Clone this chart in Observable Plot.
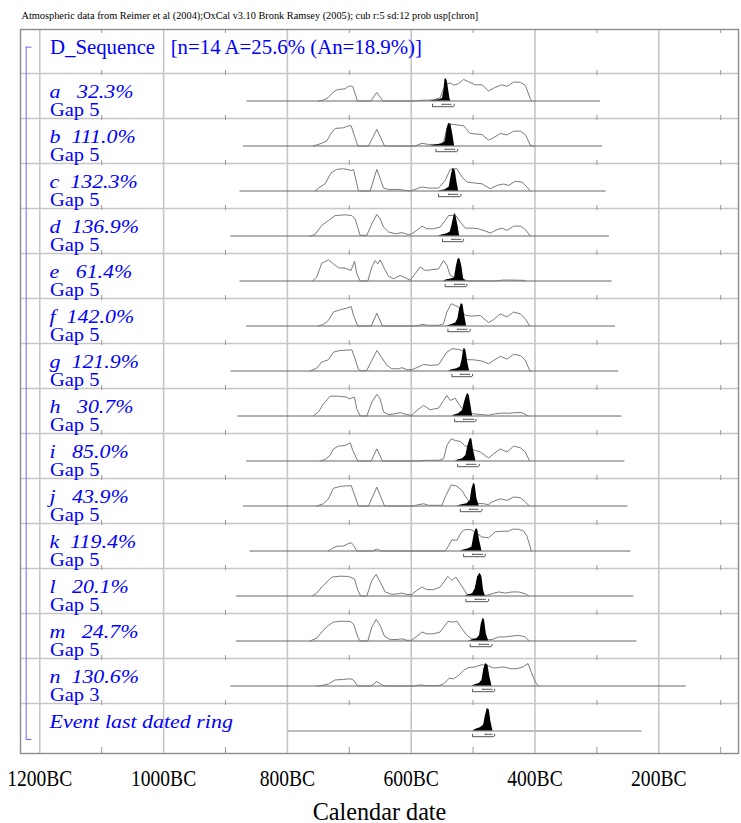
<!DOCTYPE html>
<html>
<head>
<meta charset="utf-8">
<script src="https://cdn.jsdelivr.net/npm/d3@7"></script>
<script src="https://cdn.jsdelivr.net/npm/@observablehq/plot@0.6"></script>
<style>
  html, body { margin: 0; padding: 0; background: #fff; }
  svg { display: block; }
</style>
</head>
<body>
<div id="chart"></div>
<script>
// ---------------- DATA ----------------
const titleText = "Atmospheric data from Reimer et al (2004);OxCal v3.10 Bronk Ramsey (2005); cub r:5 sd:12 prob usp[chron]";
const seqName = "D_Sequence";
const seqN = 14, seqA = 25.6, seqAn = 18.9;
const xAxisLabel = "Calendar date";

const rowNames  = ["a","b","c","d","e","f","g","h","i","j","k","l","m","n"];
const agreement = [32.3,111.0,132.3,136.9,61.4,142.0,121.9,30.7,85.0,43.9,119.4,20.1,24.7,130.6];
const gaps      = [5,5,5,5,5,5,5,5,5,5,5,5,5,3];
const eventLabel = "Event last dated ring";

const majorYears = [1200,1000,800,600,400,200];           // years BC
const tickLabels = ["1200BC","1000BC","800BC","600BC","400BC","200BC"];
const minorYears = [1100,900,700,500,300,100];

// calculation range of each row (years BC), a..n, event
const rangeStart = [865.2,871.2,876.5,891.1,876.5,865.7,891.1,880.3,865.7,871.2,860.4,882.4,882.4,891.1,798.4];
const rangeEnd   = [294.3,290.6,285.1,279.8,275.4,270.1,264.7,259.6,254.7,249.9,245.0,240.2,235.3,155.7,226.8];

// 95.4% and 68.2% ranges (years BC)
const range95From = [565.5,560.1,555.8,549.3,545.0,540.7,534.2,529.9,525.0,520.7,515.3,511.6,504.6,500.8,500.8];
const range95To   = [530.4,525.0,519.7,515.3,510.0,504.6,500.8,495.4,490.0,485.7,480.3,474.9,469.5,465.2,465.2];
const range68From = [549.8,545.0,539.6,534.2,529.9,525.1,520.2,515.3,510.0,505.6,500.8,496.5,490.0,484.6,480.3];
const range68To   = [535.8,529.9,525.0,519.7,513.7,510.0,505.6,499.2,495.4,492.2,484.6,480.3,474.9,469.5,469.5];

// likelihoods (outline): [year BC, relative height]
const likeA = [[749.8,0],[741.8,.04],[733.7,.16],[728.3,.33],[721.3,.48],[714.8,.52],[706.7,.54],[703.0,.62],[697.5,.67],[694.3,.64],[686.8,0],[665.2,0],[655.5,.38],[645.8,0],[593.5,0],[582.7,.03],[563.8,.05],[553.1,.15],[547.7,.55],[542.3,.75],[536.9,.80],[530.4,.70],[523.4,.78],[515.3,.96],[507.2,.85],[496.5,.72],[485.7,.72],[474.9,.45],[464.1,.61],[453.3,.72],[445.2,.65],[434.5,.84],[423.7,.83],[415.6,.70],[407.5,.10],[404.8,0]];
const likeB = [[758.0,0],[744.5,.12],[736.4,.22],[729.4,.56],[722.9,.78],[709.4,.81],[700.3,.90],[697.0,.90],[686.2,0],[669.0,0],[655.5,.74],[643.1,0],[593.5,0],[582.7,.12],[572.0,.07],[555.8,.07],[547.7,.16],[542.3,.78],[538.5,1.0],[534.2,.96],[523.4,.93],[515.3,.90],[504.6,.56],[493.8,.53],[485.7,.51],[474.9,.26],[466.8,.37],[456.0,.56],[445.3,.49],[434.5,.66],[423.7,.66],[415.6,.51],[407.5,.04],[402.1,0]];
const likeC = [[755.2,0],[747.2,.18],[739.1,.32],[729.4,.81],[720.2,.96],[709.4,.99],[695.9,.91],[693.2,.96],[685.2,0],[666.3,0],[655.5,.96],[644.7,.13],[636.6,.07],[620.5,.07],[601.6,0],[590.8,.10],[582.7,.18],[572.0,.13],[555.8,.13],[545.0,.47],[536.9,.96],[531.5,.99],[526.1,.99],[518.0,.62],[509.9,.40],[496.5,.35],[485.7,.32],[472.2,.10],[461.4,.25],[450.6,.31],[442.6,.25],[431.8,.43],[421.0,.40],[412.9,.18],[407.5,0]];
const likeD = [[763.3,0],[755.2,.07],[744.5,.47],[733.7,.69],[722.9,.91],[706.7,.94],[695.9,.91],[690.6,.76],[682.5,.03],[671.7,.03],[663.6,.54],[655.5,.96],[650.1,.76],[644.7,.40],[636.6,.18],[625.9,.10],[615.1,.15],[604.3,.06],[598.9,.10],[590.8,.25],[582.7,.44],[574.6,.32],[563.9,.32],[553.1,.40],[545.0,.69],[539.6,.91],[534.2,.91],[528.8,.94],[520.7,.62],[512.6,.35],[501.9,.35],[491.1,.32],[480.3,.22],[472.2,.13],[461.4,.28],[453.3,.35],[445.3,.25],[434.5,.44],[423.7,.44],[415.6,.29],[407.5,0]];
const likeE = [[759.6,0],[752.5,.18],[744.5,.79],[733.7,.94],[725.6,.76],[717.5,.59],[706.7,.57],[697.0,.47],[691.6,.88],[687.9,.32],[682.5,0],[670.1,0],[663.6,.62],[658.2,.91],[653.9,.76],[650.1,.94],[643.1,.54],[636.6,.21],[628.5,.10],[617.8,.25],[609.7,.15],[601.6,.03],[594.6,.29],[585.4,.62],[577.3,.47],[566.6,.50],[555.8,.54],[547.7,.91],[542.3,.69],[536.9,.25],[531.5,.18],[520.0,.10],[507.2,0],[461.4,0],[453.3,.04],[437.2,.04],[418.3,.03],[415.6,0]];
const likeF = [[749.9,0],[741.8,.07],[733.7,.25],[725.6,.62],[714.8,.72],[704.0,.79],[697.0,.87],[693.2,.47],[686.2,0],[664.7,0],[655.5,.57],[646.4,0],[590.8,0],[582.7,.07],[572.0,.03],[555.8,.03],[547.7,.10],[542.3,.62],[535.3,.99],[528.8,.91],[523.4,.84],[512.6,.47],[501.9,.44],[488.4,.47],[474.9,.15],[466.8,.29],[456.0,.54],[445.3,.40],[434.5,.62],[423.7,.54],[415.6,.32],[408.6,0]];
const likeG = [[763.3,0],[752.5,.13],[744.5,.40],[733.7,.50],[725.6,.84],[714.8,.91],[695.9,.94],[691.6,.62],[685.2,.06],[679.8,0],[671.7,.03],[663.6,.47],[655.5,.91],[647.4,.59],[639.3,.25],[631.3,.10],[620.5,.10],[615.1,.15],[607.0,.06],[598.9,.06],[588.1,.18],[580.0,.29],[569.3,.25],[555.8,.28],[542.3,.84],[534.2,.99],[523.4,.96],[517.0,.91],[512.6,.50],[499.2,.50],[485.7,.44],[474.9,.32],[466.8,.47],[456.0,.65],[445.3,.53],[434.5,.74],[423.7,.69],[415.6,.47],[408.6,.03],[406.1,0]];
const likeH = [[758.0,0],[749.9,.18],[741.8,.54],[731.0,.88],[717.5,.88],[704.0,.84],[700.3,.76],[691.6,.84],[687.9,.32],[682.5,0],[671.7,0],[663.6,.62],[655.5,.96],[650.1,.76],[644.7,.18],[636.6,.06],[625.9,.10],[617.8,.15],[607.0,.06],[598.9,.03],[590.8,.25],[580.0,.47],[569.3,.28],[555.8,.35],[547.7,.69],[542.3,.91],[536.9,.69],[528.8,.79],[523.4,.54],[515.3,.25],[505.0,.12],[496.5,.09],[485.7,.06],[474.9,.03],[464.1,.10],[453.3,.13],[442.6,.12],[431.8,.15],[421.0,.15],[412.9,.03],[410.2,0]];
const likeI = [[747.2,0],[739.1,.07],[731.0,.25],[725.6,.54],[717.5,.66],[706.7,.69],[698.6,.81],[694.3,.47],[686.2,0],[664.7,0],[655.5,.54],[646.4,0],[589.2,0],[577.3,.03],[555.8,.03],[547.7,.10],[542.3,.69],[535.3,.99],[528.8,.91],[520.7,.87],[513.7,.69],[505.0,.55],[496.5,.47],[488.4,.40],[474.9,.13],[466.8,.32],[456.0,.54],[445.3,.40],[434.5,.66],[423.7,.59],[415.6,.40],[408.6,0]];
const likeJ = [[752.5,0],[741.8,.10],[733.7,.32],[725.6,.79],[714.8,.87],[697.0,.91],[693.2,.62],[685.2,0],[669.0,0],[655.5,.84],[643.1,0],[596.2,0],[588.1,.06],[580.0,.10],[572.0,.03],[550.4,.03],[544.0,.47],[535.3,.94],[526.1,.88],[518.0,.69],[509.9,.32],[504.6,.18],[495.0,.12],[483.0,.10],[474.9,.06],[469.5,.18],[456.0,.32],[445.3,.25],[434.5,.40],[423.7,.37],[415.6,.18],[409.1,0]];
const likeK = [[733.7,0],[728.3,.10],[720.2,.21],[709.4,.22],[702.4,.32],[697.0,.37],[693.2,.25],[687.9,0],[662.5,0],[655.5,.09],[648.5,0],[545.0,0],[540.7,.18],[534.2,.50],[526.1,.47],[520.7,.76],[515.3,.94],[504.6,.96],[496.5,.84],[485.7,.62],[474.9,.59],[464.1,.85],[453.3,.88],[442.6,.88],[436.1,.97],[426.4,.97],[418.3,.88],[412.9,.66],[405.9,0]];
const likeL = [[759.6,0],[752.5,.13],[744.5,.40],[733.7,.69],[728.3,.84],[714.8,.88],[701.3,.87],[691.6,.76],[686.2,.25],[681.4,0],[671.7,0],[663.6,.69],[656.6,.96],[650.1,.62],[642.0,.18],[631.3,.07],[620.5,.10],[615.1,.13],[607.0,.07],[598.9,.07],[590.8,.25],[582.7,.40],[574.6,.28],[563.9,.28],[553.1,.40],[540.7,.87],[534.2,.69],[527.8,.84],[520.7,.54],[513.7,.25],[509.9,.07],[495.0,.04],[477.6,.03],[469.5,.10],[458.7,.18],[447.9,.13],[437.2,.18],[426.4,.18],[415.6,.10],[410.2,0]];
const likeM = [[763.3,0],[752.5,.13],[744.5,.40],[733.7,.69],[725.6,.84],[714.8,.88],[698.6,.87],[693.2,.76],[686.2,.18],[682.5,0],[670.1,0],[663.6,.62],[656.6,.96],[650.1,.69],[643.1,.21],[633.9,.06],[620.5,.07],[615.1,.10],[607.0,.03],[600.0,.03],[590.8,.21],[582.7,.40],[574.6,.32],[563.9,.32],[553.1,.40],[540.7,.87],[531.5,.84],[526.1,.88],[518.0,.54],[509.9,.25],[501.9,.10],[485.0,.05],[469.5,.06],[458.7,.18],[447.9,.18],[437.2,.22],[426.4,.25],[415.6,.18],[409.1,0]];
const likeN = [[752.5,0],[744.5,.02],[733.7,.09],[722.9,.27],[709.4,.29],[698.6,.32],[694.3,.29],[686.2,0],[664.7,0],[655.5,.20],[647.4,.05],[641.9,0],[593.5,0],[585.4,.05],[577.3,.02],[555.8,.02],[547.7,.09],[538.5,.35],[531.5,.32],[523.4,.47],[515.3,.70],[507.2,.82],[496.5,.85],[485.7,.95],[474.9,.89],[466.8,.80],[458.7,.82],[450.6,.85],[439.8,.77],[429.1,.77],[419.4,.85],[411.3,1.0],[406.1,.62],[399.4,.17],[394.1,0]];

// posteriors (filled): [year BC, relative height]
const postA = [[569.2,0],[561.1,.03],[553.1,.07],[549.3,.12],[547.2,.45],[545.5,.95],[544.0,1.0],[541.8,.9],[539.6,.5],[537.4,.1],[535.8,0]];
const postB = [[569.3,0],[561.2,.04],[550.4,.09],[545.0,.19],[541.8,.78],[539.6,1.0],[535.8,.96],[532.6,.49],[529.9,0]];
const postC = [[555.8,0],[545.0,.06],[538.5,.18],[535.3,.69],[532.6,1.0],[528.8,.91],[526.1,.40],[523.4,0]];
const postD = [[555.8,0],[550.4,.04],[542.3,.10],[536.9,.18],[534.2,.47],[530.4,.94],[529.6,1.0],[527.8,.91],[524.5,.47],[521.8,0]];
const postE = [[547.7,0],[542.3,.06],[534.2,.10],[530.0,.15],[527.2,.62],[524.5,.96],[522.6,1.0],[520.7,.94],[518.0,.62],[515.3,.10],[511.6,0]];
const postF = [[542.3,0],[534.2,.07],[528.0,.13],[524.5,.32],[521.8,.76],[519.1,.99],[516.4,.96],[513.7,.47],[510.5,0]];
const postG = [[539.6,0],[534.2,.06],[526.1,.10],[520.7,.18],[518.0,.47],[514.8,.99],[513.5,1.0],[511.6,.91],[508.3,.32],[505.6,0]];
const postH = [[534.2,0],[528.8,.06],[523.4,.10],[517.0,.25],[513.7,.62],[510.0,.94],[508.3,1.0],[506.2,.91],[503.5,.47],[500.8,0]];
const postI = [[528.8,0],[523.4,.06],[517.0,.10],[511.6,.25],[508.3,.69],[504.6,.99],[503.3,1.0],[501.9,.96],[499.2,.47],[495.4,0]];
const postJ = [[526.1,0],[518.0,.06],[509.9,.10],[504.6,.25],[501.9,.76],[499.2,.99],[498.0,1.0],[496.5,.91],[493.8,.32],[490.0,0]];
const postK = [[520.7,0],[513.7,.06],[507.2,.10],[501.9,.18],[498.1,.76],[495.4,.96],[494.0,1.0],[492.2,.91],[489.5,.47],[485.7,0]];
const postL = [[512.6,0],[507.2,.06],[500.8,.10],[496.5,.32],[492.7,.84],[489.5,.99],[488.4,1.0],[485.7,.84],[483.0,.25],[480.3,0]];
const postM = [[507.2,0],[500.8,.06],[493.8,.10],[489.5,.25],[486.8,.76],[484.1,.99],[483.0,1.0],[481.4,.91],[478.7,.32],[474.9,0]];
const postN = [[501.9,0],[496.5,.06],[490.0,.11],[485.7,.24],[482.5,.77],[479.8,1.0],[476.0,.92],[472.8,.39],[469.5,0]];
const postEvent = [[500.8,0],[495.4,.08],[488.4,.14],[483.0,.26],[480.3,.64],[477.1,1.0],[473.9,.94],[471.2,.41],[467.9,0]];

// ---------------- BUILD ----------------
const ROW = 45;                       // px per row (layout)
const px = p => p / ROW;              // px -> row units
const BASE = px(27.5), PEAK = px(22.5);
const Y_TOP = px(-44), Y_BOTTOM = px(680);
const nRows = rowNames.length + 1;
const rowIdx = d3.range(nRows);

const likelihoods = [likeA,likeB,likeC,likeD,likeE,likeF,likeG,likeH,likeI,likeJ,likeK,likeL,likeM,likeN];
const posteriors  = [postA,postB,postC,postD,postE,postF,postG,postH,postI,postJ,postK,postL,postM,postN,postEvent];

const likeTable = likelihoods.flatMap((pts, r) => pts.map(([bc, h]) => ({row: r, x: -bc, y: r + BASE - PEAK * h})));
const postTable = posteriors.flatMap((pts, r) => pts.map(([bc, h]) => ({row: r, x: -bc, base: r + BASE, top: r + BASE - PEAK * h})));
const rows = rowIdx.map(r => ({
  row: r, base: r + BASE,
  x1: -rangeStart[r], x2: -rangeEnd[r],
  a1: -range95From[r], a2: -range95To[r],
  b1: -range68From[r], b2: -range68To[r]
}));
const minorTicks = minorYears.flatMap(bc => [
  ...rowIdx.map(l => ({x: -bc, y1: l - px(3), y2: l + px(2)})),
  {x: -bc, y1: Y_TOP, y2: Y_TOP + px(4)},
  {x: -bc, y1: Y_BOTTOM - px(6), y2: Y_BOTTOM}
]);

const NB = "\u00a0";
const italicLabels = rowNames.map((nm, i) => ({
  y: i + px(24.3),
  t: nm + (agreement[i] < 100 ? NB + NB + NB : NB + NB) + agreement[i].toFixed(1) + "%"
})).concat([{y: rowNames.length + px(24.3), t: eventLabel}]);
const gapLabels = gaps.map((g, i) => ({y: i + px(42.7), t: "Gap " + g}));
const header = `${seqName}${NB}${NB}${NB}[n=${seqN} A=${seqA.toFixed(1)}% (An=${seqAn.toFixed(1)}%)]`;

const BLUE = "#0000ff";
const SERIF = "'Liberation Serif', 'Times New Roman', Times, serif";
const BR_X = -1222, BR_X2 = -1212.6;

const svg = Plot.plot({
  width: 741, height: 823,
  marginTop: 29, marginBottom: 70, marginLeft: 20, marginRight: 3,
  style: {fontFamily: SERIF, background: "#fff", overflow: "visible"},
  x: {type: "linear", domain: [-1231.2, -71.2], axis: null},
  y: {type: "linear", domain: [Y_TOP, Y_BOTTOM], reverse: true, axis: null},
  marks: [
    // grid
    Plot.ruleX(majorYears, {x: d => -d, stroke: "#c6c6c6", strokeWidth: 1.6}),
    Plot.ruleY(rowIdx, {y: d => d, stroke: "#c6c6c6", strokeWidth: 1.4}),
    Plot.ruleX(minorTicks, {x: "x", y1: "y1", y2: "y2", stroke: "#999", strokeWidth: 1}),
    Plot.frame({stroke: "#8c8c8c", strokeWidth: 1.4}),
    // sequence bracket
    Plot.ruleX([BR_X], {x: d => d, y1: px(-26.3), y2: px(666), stroke: "#6b6bff", strokeWidth: 1}),
    Plot.ruleY([px(-26.3), px(666)], {y: d => d, x1: BR_X, x2: BR_X2, stroke: "#6b6bff", strokeWidth: 1}),
    // baselines
    Plot.ruleY(rows.filter(d => d.row < nRows - 1), {y: "base", x1: "x1", x2: "x2", stroke: "#666", strokeWidth: 1}),
    Plot.ruleY(rows.filter(d => d.row === nRows - 1), {y: "base", x1: "x1", x2: "x2", stroke: "#bdbdbd", strokeWidth: 2}),
    // likelihood outlines
    Plot.line(likeTable, {x: "x", y: "y", z: "row", stroke: "#7a7a7a", strokeWidth: 1, curve: "linear"}),
    // posteriors
    Plot.area(postTable, {x1: "x", y1: "base", y2: "top", z: "row", fill: "#000", curve: "linear"}),
    // 95% range brackets
    Plot.ruleY(rows, {y: d => d.base + px(5.7), x1: "a1", x2: "a2", stroke: "#555", strokeWidth: 1}),
    Plot.ruleX(rows, {x: "a1", y1: d => d.base + px(3.3), y2: d => d.base + px(5.7), stroke: "#555", strokeWidth: 1}),
    Plot.ruleX(rows, {x: "a2", y1: d => d.base + px(3.3), y2: d => d.base + px(5.7), stroke: "#555", strokeWidth: 1}),
    // 68% range brackets
    Plot.ruleY(rows, {y: d => d.base + px(3.3), x1: "b1", x2: "b2", stroke: "#555", strokeWidth: 1}),
    Plot.ruleX(rows, {x: "b1", y1: d => d.base + px(3.3), y2: d => d.base + px(4.6), stroke: "#555", strokeWidth: 1}),
    Plot.ruleX(rows, {x: "b2", y1: d => d.base + px(3.3), y2: d => d.base + px(4.6), stroke: "#555", strokeWidth: 1}),
    // texts
    Plot.text([titleText], {frameAnchor: "top-left", dx: 1, dy: -10.5, lineAnchor: "bottom", textAnchor: "start", fontSize: 10.5, fill: "#000", ariaLabel: () => "title-text"}),
    Plot.text([header], {frameAnchor: "left", y: () => px(-19.7), dx: 29.5, lineAnchor: "bottom", textAnchor: "start", fontSize: 20.8, fill: BLUE}),
    Plot.text(italicLabels, {frameAnchor: "left", y: "y", text: "t", dx: 29, lineAnchor: "bottom", textAnchor: "start", fontSize: 18.6, fontStyle: "italic", fill: BLUE, ariaLabel: () => "row-label"}),
    Plot.text(gapLabels, {frameAnchor: "left", y: "y", text: "t", dx: 29.5, lineAnchor: "bottom", textAnchor: "start", fontSize: 18.6, fill: BLUE, ariaLabel: () => "gap-label"}),
    Plot.text(majorYears, {x: d => -d, text: (d, i) => tickLabels[i], frameAnchor: "bottom", dy: 32.7, lineAnchor: "bottom", textAnchor: "middle", fontSize: 23, fill: "#000", ariaLabel: () => "tick-label"}),
    Plot.text([xAxisLabel], {frameAnchor: "bottom", dy: 66, lineAnchor: "bottom", textAnchor: "middle", fontSize: 24.2, fill: "#000"})
  ]
});

// horizontal stretch/squeeze of text glyphs, applied once per text element
function stretch(label, sx, targetWidth) {
  const set = new Set();
  svg.querySelectorAll(`[aria-label="${label}"]`).forEach(t => {
    if (t.tagName.toLowerCase() === "text") set.add(t);
    else t.querySelectorAll("text").forEach(e => set.add(e));
  });
  set.forEach(e => {
    let s = sx;
    if (targetWidth) {
      try { const w = e.getComputedTextLength(); if (w > 0) s = targetWidth / w; } catch (err) {}
    }
    const tr = e.getAttribute("transform") || "";
    e.setAttribute("transform", tr + ` scale(${s},1)`);
  });
}

document.getElementById("chart").appendChild(svg);
stretch("title-text", 1.22, 457);
stretch("row-label", 1.18);
stretch("gap-label", 1.1);
stretch("tick-label", 0.85);
</script>
</body>
</html>
